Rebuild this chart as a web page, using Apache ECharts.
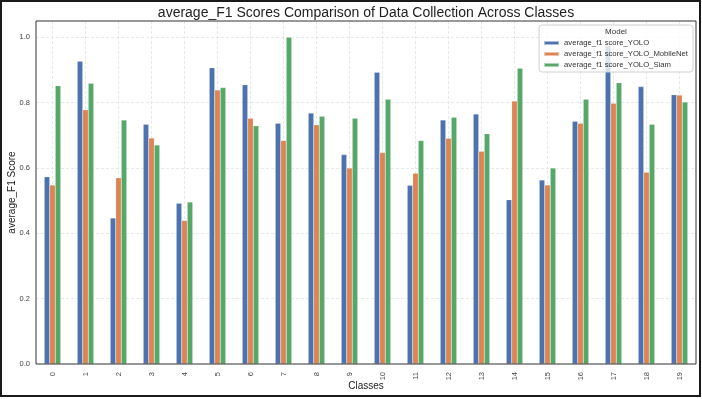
<!DOCTYPE html>
<html>
<head>
<meta charset="utf-8">
<script src="https://cdn.jsdelivr.net/npm/echarts@6/dist/echarts.min.js"></script>
<style>
    html, body { margin: 0; padding: 0; background: #fff; }
    #chart { width: 702px; height: 399px; }
    #frame {
        position: absolute; left: 0; top: 0; width: 701px; height: 397px;
        box-sizing: border-box; border: 2px solid #1a1a1a; pointer-events: none;
    }
</style>
</head>
<body>
<div id="chart"></div>
<div id="frame"></div>
<script>
const classes = ["0", "1", "2", "3", "4", "5", "6", "7", "8", "9",
    "10", "11", "12", "13", "14", "15", "16", "17", "18", "19"];
const seriesNames = [
    "average_f1 score_YOLO",
    "average_f1 score_YOLO_MobileNet",
    "average_f1 score_YOLO_Siam"
];
const yoloScores = [0.573, 0.927, 0.447, 0.734, 0.492, 0.907, 0.855, 0.737, 0.768, 0.641,
    0.893, 0.547, 0.747, 0.765, 0.503, 0.563, 0.743, 0.975, 0.849, 0.824];
const mobileNetScores = [0.548, 0.778, 0.570, 0.692, 0.439, 0.839, 0.752, 0.684, 0.732, 0.600,
    0.647, 0.584, 0.691, 0.651, 0.805, 0.548, 0.737, 0.798, 0.587, 0.823];
const siamScores = [0.852, 0.859, 0.747, 0.670, 0.496, 0.846, 0.729, 1.0, 0.758, 0.752,
    0.810, 0.684, 0.755, 0.705, 0.905, 0.600, 0.810, 0.861, 0.734, 0.802];
const colors = ["#4C72B0", "#DD8452", "#55A868"];

const font = "'Liberation Sans', Arial, sans-serif";
const chart = echarts.init(document.getElementById("chart"), null, { renderer: "canvas" });

const gridLine = { color: "#e2e2e2", type: [3, 2], width: 0.8 };

const makeBar = (name, data) => ({
    name: name,
    type: "bar",
    data: data,
    barWidth: 5.5,
    barGap: "0%",
    itemStyle: { borderColor: "rgba(255,255,255,0.5)", borderWidth: 0.4 }
});

chart.setOption({
    animation: false,
    color: colors,
    textStyle: { fontFamily: font },
    title: [
        {
            text: "average_F1 Scores Comparison of Data Collection Across Classes",
            left: 366,
            top: 6,
            padding: 0,
            textAlign: "center",
            textStyle: { fontSize: 14, fontWeight: "normal", color: "#222", fontFamily: font }
        },
        {
            text: "Model",
            left: 616,
            top: 28,
            padding: 0,
            textAlign: "center",
            z: 10,
            textStyle: { fontSize: 8, fontWeight: "normal", color: "#333", fontFamily: font }
        }
    ],
    legend: {
        orient: "vertical",
        right: 9,
        top: 25,
        padding: [14, 5, 3, 4],
        itemWidth: 15,
        itemHeight: 4,
        itemGap: 3,
        icon: "rect",
        backgroundColor: "rgba(255,255,255,0.8)",
        borderColor: "#d0d0d0",
        borderWidth: 1,
        borderRadius: 3,
        textStyle: { fontSize: 7.7, color: "#333", fontFamily: font },
        data: seriesNames
    },
    grid: {
        left: 36,
        top: 21,
        right: 6,
        bottom: 35,
        show: true,
        z: 3,
        borderColor: "#333",
        borderWidth: 1,
        containLabel: false,
        outerBoundsMode: "none"
    },
    xAxis: {
        type: "category",
        data: classes,
        name: "Classes",
        nameLocation: "middle",
        nameGap: 17,
        nameMoveOverlap: false,
        nameTextStyle: { fontSize: 10, color: "#222" },
        axisLine: { show: false },
        axisTick: { show: false, alignWithLabel: true },
        axisLabel: { rotate: 90, fontSize: 7.5, color: "#444", margin: 8 },
        splitLine: {
            show: true,
            alignWithLabel: true,
            lineStyle: gridLine
        }
    },
    yAxis: {
        type: "value",
        min: 0,
        max: 1.05,
        interval: 0.2,
        name: "average_F1 Score",
        nameLocation: "middle",
        nameGap: 19,
        nameMoveOverlap: false,
        nameTextStyle: { fontSize: 10, color: "#222" },
        axisLine: { show: false },
        axisTick: { show: false },
        axisLabel: {
            fontSize: 7.5,
            color: "#444",
            margin: 6,
            showMaxLabel: false,
            formatter: v => v.toFixed(1)
        },
        splitLine: { showMinLine: false, showMaxLine: false, lineStyle: gridLine }
    },
    series: [
        makeBar(seriesNames[0], yoloScores),
        makeBar(seriesNames[1], mobileNetScores),
        makeBar(seriesNames[2], siamScores)
    ]
});
</script>
</body>
</html>
